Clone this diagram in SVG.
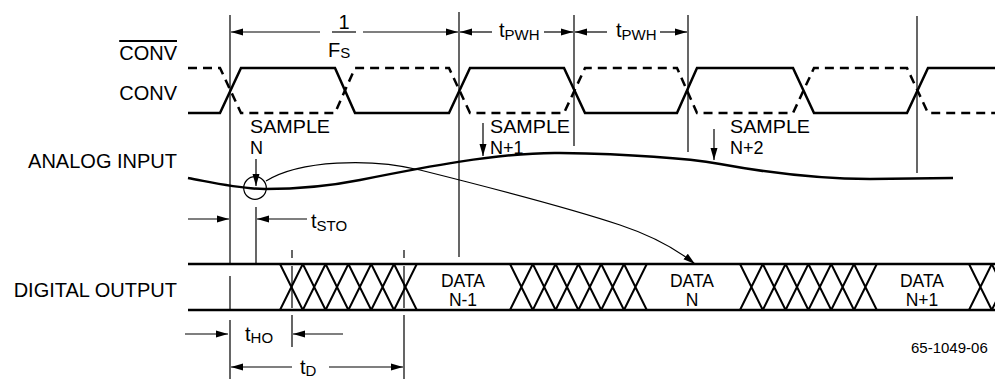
<svg xmlns="http://www.w3.org/2000/svg" width="995" height="379" viewBox="0 0 995 379">
<style>
text{font-family:"Liberation Sans",Arial,sans-serif;fill:#000}
.lbl{font-size:20px}
.smp{font-size:18px}
.dat{font-size:17.5px}
.sub{font-size:15px}
.foot{font-size:15px}
.thin{stroke:#000;stroke-width:1.2;fill:none}
.wave{stroke:#000;stroke-width:2.5;fill:none;stroke-linejoin:miter}
.dash{stroke:#000;stroke-width:2.5;fill:none;stroke-dasharray:9 6}
.xx{stroke:#000;stroke-width:2;fill:none}
.arr{stroke:#000;stroke-width:1.2;fill:none;marker-end:url(#ah)}
</style>
<defs>
<marker id="ah" markerUnits="userSpaceOnUse" markerWidth="13" markerHeight="9" refX="12" refY="4.5" orient="auto">
<path d="M0,1 L12,4.5 L0,8 z" fill="#000"/>
</marker>
</defs>

<g id="labels">
<text class="lbl" x="177" y="60" text-anchor="end" text-decoration="overline">CONV</text>
<text class="lbl" x="177" y="100" text-anchor="end">CONV</text>
<text class="lbl" x="177" y="168" text-anchor="end">ANALOG INPUT</text>
<text class="lbl" x="177" y="297" text-anchor="end">DIGITAL OUTPUT</text>
<text class="foot" x="911" y="353">65-1049-06</text>
</g>

<g id="conv-bar">
<path class="dash" d="M188,68 L220,68 L241,113 L335,113 L355,68 L449,68 L470,113 L564,113 L585,68 L677,68 L697,113 L793,113 L814,68 L907,68 L928,113 L995,113"/>
</g>
<g id="conv">
<path class="wave" d="M188,113 L220,113 L241,68 L335,68 L355,113 L449,113 L470,68 L564,68 L585,113 L677,113 L697,68 L793,68 L814,113 L907,113 L928,68 L995,68"/>
</g>

<g id="analog-input">
<path class="wave" d="M188,178 C215,183 240,189 265,189 C300,189 330,186 360,180 C420,168 500,152 560,153 C620,154 680,157 720,164 C780,175 830,179 870,179 L953,178"/>
<circle cx="255" cy="188" r="11.3" class="thin"/>
</g>

<g id="digital-output">
<path class="wave" d="M188,264 L995,264 M188,310 L995,310"/>
<path class="xx" d="M280,264 L302.8,310 M280,310 L302.8,264 M302.8,264 L325.6,310 M302.8,310 L325.6,264 M325.6,264 L348.4,310 M325.6,310 L348.4,264 M348.4,264 L371.2,310 M348.4,310 L371.2,264 M371.2,264 L394,310 M371.2,310 L394,264 M394,264 L416.8,310 M394,310 L416.8,264"/>
<path class="xx" d="M510,264 L532.8,310 M510,310 L532.8,264 M532.8,264 L555.6,310 M532.8,310 L555.6,264 M555.6,264 L578.4,310 M555.6,310 L578.4,264 M578.4,264 L601.2,310 M578.4,310 L601.2,264 M601.2,264 L624,310 M601.2,310 L624,264 M624,264 L646.8,310 M624,310 L646.8,264"/>
<path class="xx" d="M740,264 L762.8,310 M740,310 L762.8,264 M762.8,264 L785.6,310 M762.8,310 L785.6,264 M785.6,264 L808.4,310 M785.6,310 L808.4,264 M808.4,264 L831.2,310 M808.4,310 L831.2,264 M831.2,264 L854,310 M831.2,310 L854,264 M854,264 L876.8,310 M854,310 L876.8,264"/>
<path class="xx" d="M969,264 L991.8,310 M969,310 L991.8,264 M991.8,264 L1014.6,310 M991.8,310 L1014.6,264"/>
<text class="dat" x="463" y="287" text-anchor="middle">DATA</text>
<text class="dat" x="463" y="306" text-anchor="middle">N-1</text>
<text class="dat" x="692" y="287" text-anchor="middle">DATA</text>
<text class="dat" x="692" y="306" text-anchor="middle">N</text>
<text class="dat" x="922" y="287" text-anchor="middle">DATA</text>
<text class="dat" x="922" y="306" text-anchor="middle">N+1</text>
</g>

<g id="samples">
<text class="smp" x="250" y="133" textLength="80" lengthAdjust="spacingAndGlyphs">SAMPLE</text>
<text class="smp" x="250" y="154">N</text>
<text class="smp" x="490" y="133" textLength="80" lengthAdjust="spacingAndGlyphs">SAMPLE</text>
<text class="smp" x="490" y="154">N+1</text>
<text class="smp" x="730" y="133" textLength="80" lengthAdjust="spacingAndGlyphs">SAMPLE</text>
<text class="smp" x="730" y="154">N+2</text>
</g>

<g id="timing-labels">
<text class="lbl" x="344" y="29" text-anchor="middle">1</text>
<text x="328" y="57"><tspan class="lbl">F</tspan><tspan class="sub" dy="1">S</tspan></text>
<text x="499" y="37"><tspan class="lbl">t</tspan><tspan class="sub" dy="3">PWH</tspan></text>
<text x="616" y="37"><tspan class="lbl">t</tspan><tspan class="sub" dy="3">PWH</tspan></text>
<text x="311" y="228"><tspan class="lbl">t</tspan><tspan class="sub" dy="3">STO</tspan></text>
<text x="245" y="341"><tspan class="lbl">t</tspan><tspan class="sub" dy="2">HO</tspan></text>
<text x="300" y="374"><tspan class="lbl">t</tspan><tspan class="sub" dy="2">D</tspan></text>
</g>

<g id="connectors">
<path class="thin" d="M230,15 L230,263 M230,276 L230,309 M230,320 L230,379"/>
<path class="thin" d="M459,12 L459,257"/>
<path class="thin" d="M574,15 L574,146"/>
<path class="thin" d="M688,15 L688,152"/>
<path class="thin" d="M917,16 L917,173"/>
<path class="thin" d="M256,207 L256,263"/>
<path class="thin" d="M292,250 L292,258 M292,266 L292,308 M292,315 L292,347"/>
<path class="thin" d="M404,250 L404,258 M404,266 L404,308 M404,315 L404,379"/>
<path class="thin" d="M332,32 L356,32"/>
<path class="arr" d="M320,32 L231,32"/>
<path class="arr" d="M363,32 L458,32"/>
<path class="arr" d="M492,32 L460,32"/>
<path class="arr" d="M544,32 L573,32"/>
<path class="arr" d="M607,32 L575,32"/>
<path class="arr" d="M660,32 L687,32"/>
<path class="arr" d="M188,219 L229,219"/>
<path class="arr" d="M307,219 L257,219"/>
<path class="arr" d="M185,334 L228,334"/>
<path class="arr" d="M343,334 L293,334"/>
<path class="arr" d="M292,367 L231,367"/>
<path class="arr" d="M329,367 L403,367"/>
<path class="arr" d="M256,159 L256,186"/>
<path class="arr" d="M483,123 L483,156"/>
<path class="arr" d="M714,129 L714,160"/>
<path class="arr" d="M266,181 C300,160 370,158 420,170 C480,185 560,205 620,225 C650,235 675,248 695,264"/>
</g>
</svg>
